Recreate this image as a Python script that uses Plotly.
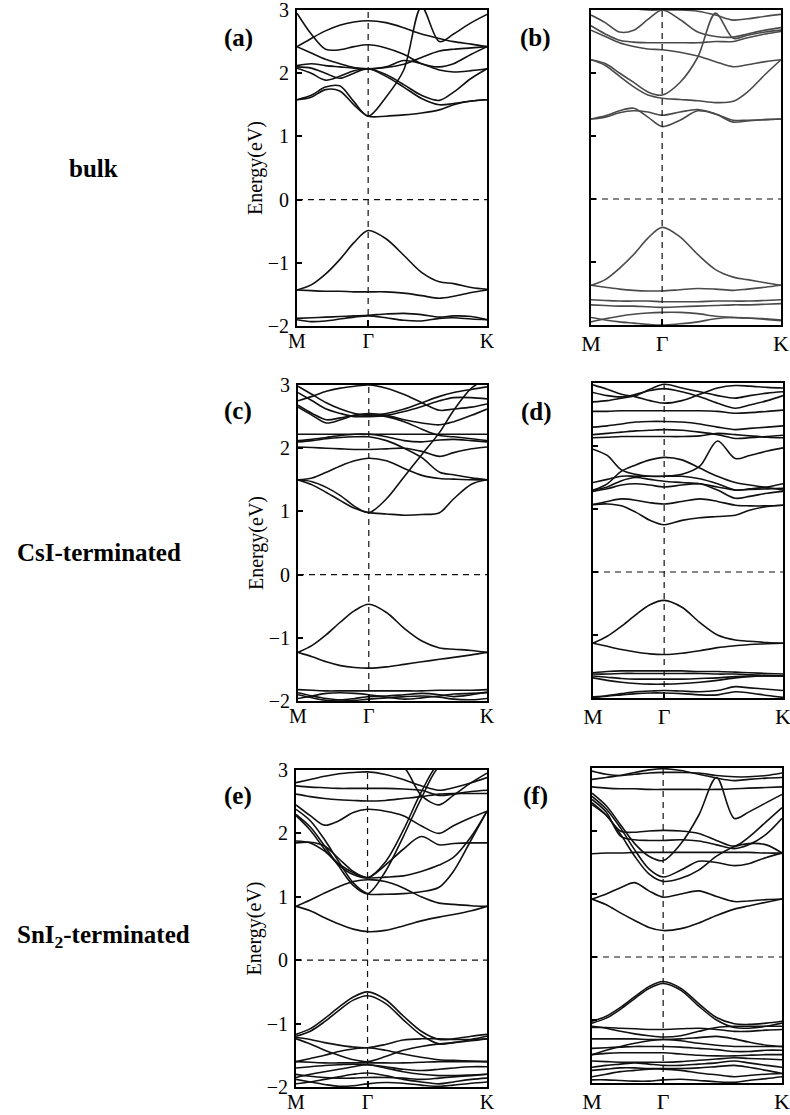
import plotly.graph_objects as go

# ---------------- data ----------------
K_GRID = [0.0, 0.2, 0.4, 0.6, 0.8, 1.0, 1.25, 1.5, 1.75, 2.0, 2.2, 2.45, 2.67]
K_TICKS = [0.0, 1.0, 2.67]
K_LABELS = ["M", "Γ", "K"]
Y_TICKS = [-2, -1, 0, 1, 2, 3]
E_FERMI = 0.0
K_GAMMA = 1.0

A_BANDS = [
    [-1.43, -1.35, -1.18, -0.95, -0.68, -0.49, -0.62, -0.88, -1.15, -1.30, -1.33, -1.39, -1.42],
    [-1.43, -1.44, -1.45, -1.45, -1.46, -1.46, -1.46, -1.48, -1.52, -1.56, -1.53, -1.47, -1.43],
    [-1.88, -1.87, -1.86, -1.85, -1.84, -1.83, -1.81, -1.80, -1.82, -1.86, -1.84, -1.85, -1.90],
    [-1.90, -1.93, -1.92, -1.89, -1.86, -1.84, -1.87, -1.91, -1.92, -1.88, -1.87, -1.89, -1.90],
    [1.58, 1.62, 1.74, 1.72, 1.50, 1.32, 1.32, 1.34, 1.37, 1.42, 1.50, 1.56, 1.58],
    [1.58, 1.65, 1.78, 1.80, 1.55, 1.32, 1.62, 2.05, 3.05, 2.50, 2.62, 2.80, 2.93],
    [2.08, 2.00, 1.89, 1.95, 2.04, 2.07, 1.98, 1.82, 1.65, 1.57, 1.70, 1.92, 2.07],
    [2.10, 2.08, 2.00, 1.92, 2.00, 2.07, 1.95, 1.78, 1.60, 1.50, 1.52, 1.56, 1.58],
    [2.12, 2.15, 2.12, 2.10, 2.08, 2.07, 2.10, 2.20, 2.15, 2.05, 2.02, 2.04, 2.07],
    [2.42, 2.32, 2.22, 2.15, 2.09, 2.07, 2.09, 2.14, 2.25, 2.35, 2.38, 2.40, 2.42],
    [2.95, 2.62, 2.38, 2.37, 2.42, 2.45, 2.40, 2.30, 2.15, 2.10, 2.15, 2.30, 2.42],
    [2.42, 2.55, 2.67, 2.76, 2.81, 2.83, 2.80, 2.72, 2.62, 2.55, 2.50, 2.46, 2.42],
]

B_BANDS = [
    [-1.37, -1.28, -1.10, -0.88, -0.62, -0.45, -0.60, -0.88, -1.12, -1.24, -1.28, -1.33, -1.37],
    [-1.37, -1.40, -1.43, -1.45, -1.46, -1.46, -1.44, -1.42, -1.43, -1.45, -1.43, -1.40, -1.37],
    [-1.60, -1.61, -1.62, -1.62, -1.62, -1.63, -1.63, -1.63, -1.62, -1.62, -1.62, -1.61, -1.60],
    [-1.68, -1.69, -1.70, -1.70, -1.71, -1.72, -1.71, -1.70, -1.69, -1.68, -1.68, -1.67, -1.66],
    [-1.95, -1.90, -1.86, -1.83, -1.81, -1.80, -1.80, -1.82, -1.86, -1.88, -1.89, -1.90, -1.92],
    [-1.88, -1.92, -1.95, -1.97, -1.99, -2.00, -1.98, -1.95, -1.90, -1.88, -1.89, -1.91, -1.93],
    [1.27, 1.32, 1.40, 1.44, 1.30, 1.15, 1.25, 1.40, 1.35, 1.25, 1.25, 1.26, 1.27],
    [1.27, 1.30, 1.37, 1.40, 1.38, 1.33, 1.38, 1.42, 1.35, 1.22, 1.24, 1.26, 1.27],
    [2.21, 2.15, 2.00, 1.85, 1.70, 1.65, 1.85, 2.25, 2.95, 2.55, 2.60, 2.65, 2.68],
    [2.21, 2.12, 1.95, 1.78, 1.65, 1.60, 1.58, 1.56, 1.53, 1.55, 1.70, 1.98, 2.21],
    [2.68, 2.58, 2.48, 2.42, 2.38, 2.37, 2.33, 2.27, 2.18, 2.10, 2.13, 2.18, 2.21],
    [2.75, 2.62, 2.52, 2.49, 2.48, 2.48, 2.48, 2.48, 2.50, 2.50, 2.56, 2.62, 2.66],
    [2.92, 2.80, 2.65, 2.68, 2.85, 3.00, 2.85, 2.65, 2.58, 2.57, 2.62, 2.68, 2.72],
    [3.10, 3.10, 3.05, 3.02, 3.00, 3.00, 3.00, 2.98, 2.92, 2.84, 2.86, 2.90, 2.93],
]

C_BANDS = [
    [-1.23, -1.12, -0.95, -0.75, -0.57, -0.47, -0.60, -0.85, -1.05, -1.16, -1.18, -1.20, -1.23],
    [-1.23, -1.30, -1.38, -1.44, -1.47, -1.48, -1.46, -1.42, -1.38, -1.34, -1.31, -1.27, -1.23],
    [-1.82, -1.83, -1.84, -1.84, -1.84, -1.84, -1.84, -1.84, -1.84, -1.83, -1.83, -1.83, -1.82],
    [-1.87, -1.92, -1.96, -1.98, -1.96, -1.93, -1.92, -1.90, -1.88, -1.90, -1.93, -1.90, -1.86],
    [-1.96, -1.92, -1.88, -1.87, -1.88, -1.90, -1.94, -1.97, -1.95, -1.92, -1.89, -1.88, -1.87],
    [-1.90, -1.95, -1.99, -2.00, -1.99, -1.97, -1.95, -1.93, -1.92, -1.94, -1.97, -1.98, -1.96],
    [1.50, 1.42, 1.30, 1.17, 1.05, 0.98, 0.96, 0.94, 0.95, 0.98, 1.20, 1.43, 1.50],
    [1.50, 1.47, 1.38, 1.25, 1.08, 0.98, 1.20, 1.55, 1.90, 2.25, 2.60, 2.95, 3.10],
    [1.50, 1.53, 1.62, 1.72, 1.80, 1.84, 1.80, 1.68, 1.57, 1.52, 1.51, 1.50, 1.50],
    [2.02, 2.01, 2.00, 1.99, 1.98, 1.98, 1.99, 2.00, 1.95, 1.87, 1.93, 1.99, 2.02],
    [2.10, 2.12, 2.15, 2.17, 2.18, 2.18, 2.12, 2.00, 1.85, 1.62, 1.58, 1.53, 1.50],
    [2.22, 2.22, 2.22, 2.22, 2.22, 2.22, 2.22, 2.22, 2.22, 2.22, 2.22, 2.22, 2.22],
    [2.12, 2.14, 2.17, 2.20, 2.22, 2.22, 2.18, 2.12, 2.10, 2.13, 2.14, 2.12, 2.10],
    [2.65, 2.52, 2.40, 2.45, 2.52, 2.55, 2.52, 2.45, 2.40, 2.37, 2.42, 2.52, 2.62],
    [2.68, 2.55, 2.45, 2.48, 2.52, 2.53, 2.50, 2.42, 2.30, 2.20, 2.18, 2.15, 2.12],
    [2.75, 2.82, 2.90, 2.95, 2.98, 3.00, 2.95, 2.85, 2.72, 2.60, 2.62, 2.65, 2.70],
    [2.98, 2.85, 2.72, 2.62, 2.55, 2.52, 2.55, 2.62, 2.72, 2.82, 2.88, 2.93, 2.97],
    [2.88, 2.75, 2.62, 2.55, 2.50, 2.50, 2.52, 2.58, 2.66, 2.75, 2.80, 2.80, 2.78],
]

D_BANDS = [
    [-1.13, -1.02, -0.86, -0.68, -0.52, -0.45, -0.56, -0.80, -1.00, -1.08, -1.10, -1.12, -1.13],
    [-1.13, -1.18, -1.23, -1.27, -1.30, -1.31, -1.29, -1.25, -1.20, -1.17, -1.15, -1.14, -1.13],
    [-1.60, -1.58, -1.57, -1.57, -1.57, -1.57, -1.57, -1.58, -1.58, -1.59, -1.60, -1.61, -1.62],
    [-1.62, -1.62, -1.61, -1.61, -1.61, -1.61, -1.61, -1.61, -1.62, -1.62, -1.63, -1.64, -1.65],
    [-1.65, -1.67, -1.69, -1.70, -1.70, -1.70, -1.70, -1.69, -1.68, -1.66, -1.65, -1.65, -1.65],
    [-1.68, -1.72, -1.75, -1.77, -1.78, -1.78, -1.77, -1.75, -1.72, -1.68, -1.66, -1.65, -1.65],
    [-2.00, -1.96, -1.93, -1.90, -1.89, -1.88, -1.89, -1.90, -1.88, -1.82, -1.84, -1.86, -1.88],
    [-1.98, -1.97, -1.95, -1.93, -1.92, -1.92, -1.93, -1.95, -1.95, -1.90, -1.92, -1.96, -1.99],
    [1.07, 1.08, 1.05, 0.95, 0.82, 0.75, 0.82, 0.86, 0.88, 0.90, 0.98, 1.04, 1.06],
    [1.07, 1.12, 1.16, 1.14, 1.10, 1.08, 1.12, 1.16, 1.12, 1.06, 1.05, 1.05, 1.06],
    [1.28, 1.32, 1.38, 1.40, 1.38, 1.35, 1.38, 1.40, 1.30, 1.17, 1.20, 1.25, 1.28],
    [1.30, 1.35, 1.45, 1.50, 1.47, 1.44, 1.42, 1.40, 1.35, 1.30, 1.31, 1.32, 1.33],
    [1.30, 1.40, 1.60, 1.70, 1.78, 1.82, 1.78, 1.65, 1.52, 1.42, 1.38, 1.34, 1.30],
    [1.95, 1.85, 1.62, 1.55, 1.52, 1.52, 1.55, 1.68, 2.08, 1.80, 1.85, 1.92, 1.97],
    [1.42, 1.47, 1.52, 1.52, 1.52, 1.52, 1.52, 1.48, 1.40, 1.30, 1.32, 1.35, 1.40],
    [2.85, 2.80, 2.78, 2.82, 2.88, 2.91, 2.86, 2.78, 2.68, 2.60, 2.65, 2.72, 2.80],
    [2.55, 2.55, 2.56, 2.56, 2.56, 2.56, 2.56, 2.56, 2.55, 2.52, 2.53, 2.55, 2.57],
    [2.30, 2.32, 2.35, 2.38, 2.39, 2.39, 2.38, 2.35, 2.30, 2.26, 2.28, 2.30, 2.32],
    [2.18, 2.20, 2.22, 2.24, 2.25, 2.26, 2.25, 2.22, 2.18, 2.12, 2.13, 2.15, 2.17],
    [2.13, 2.14, 2.15, 2.15, 2.15, 2.15, 2.15, 2.16, 2.20, 2.18, 2.16, 2.14, 2.13],
    [2.97, 2.90, 2.82, 2.78, 2.72, 2.68, 2.72, 2.82, 2.92, 2.96, 2.95, 2.93, 2.92],
    [2.70, 2.72, 2.76, 2.80, 2.90, 2.98, 2.92, 2.86, 2.80, 2.76, 2.80, 2.84, 2.86],
]

E_BANDS = [
    [-1.17, -1.08, -0.92, -0.74, -0.58, -0.50, -0.62, -0.88, -1.12, -1.25, -1.24, -1.20, -1.17],
    [-1.20, -1.12, -0.97, -0.79, -0.63, -0.56, -0.68, -0.94, -1.18, -1.32, -1.30, -1.25, -1.20],
    [-1.22, -1.25, -1.30, -1.34, -1.37, -1.38, -1.33, -1.26, -1.24, -1.24, -1.25, -1.25, -1.24],
    [-1.24, -1.32, -1.42, -1.50, -1.57, -1.60, -1.52, -1.42, -1.36, -1.32, -1.30, -1.27, -1.24],
    [-1.60, -1.55, -1.50, -1.44, -1.40, -1.38, -1.42, -1.48, -1.53, -1.57, -1.58, -1.59, -1.60],
    [-1.60, -1.61, -1.62, -1.62, -1.62, -1.62, -1.62, -1.62, -1.61, -1.60, -1.60, -1.60, -1.60],
    [-1.70, -1.68, -1.66, -1.65, -1.64, -1.65, -1.68, -1.72, -1.74, -1.72, -1.70, -1.68, -1.68],
    [-1.85, -1.80, -1.76, -1.72, -1.68, -1.65, -1.70, -1.76, -1.80, -1.82, -1.82, -1.81, -1.80],
    [-1.80, -1.83, -1.85, -1.86, -1.86, -1.85, -1.85, -1.86, -1.88, -1.86, -1.84, -1.82, -1.80],
    [-1.95, -1.92, -1.88, -1.84, -1.80, -1.78, -1.82, -1.88, -1.92, -1.95, -1.92, -1.88, -1.86],
    [-1.88, -1.92, -1.96, -1.99, -1.98, -1.95, -1.93, -1.94, -1.97, -1.99, -1.97, -1.94, -1.92],
    [0.85, 0.78, 0.67, 0.57, 0.49, 0.45, 0.47, 0.54, 0.62, 0.68, 0.72, 0.78, 0.85],
    [0.85, 0.95, 1.06, 1.16, 1.24, 1.27, 1.24, 1.14, 1.00, 0.90, 0.88, 0.86, 0.85],
    [2.38, 2.20, 1.90, 1.55, 1.22, 1.05, 1.04, 1.05, 1.08, 1.15, 1.40, 1.90, 2.35],
    [2.30, 2.10, 1.80, 1.48, 1.18, 1.05, 1.40, 1.95, 2.55, 3.05, 3.10, 3.10, 3.10],
    [2.28, 2.05, 1.75, 1.50, 1.35, 1.30, 1.55, 2.05, 2.65, 3.10, 3.10, 3.10, 3.10],
    [1.88, 1.85, 1.72, 1.52, 1.38, 1.30, 1.31, 1.33, 1.40, 1.50, 1.62, 1.95, 2.35],
    [1.85, 1.86, 1.80, 1.60, 1.40, 1.30, 1.50, 1.75, 1.95, 1.82, 1.84, 1.85, 1.85],
    [2.45, 2.28, 2.13, 2.20, 2.33, 2.38, 2.35, 2.28, 2.12, 2.00, 2.12, 2.25, 2.35],
    [2.62, 2.58, 2.55, 2.53, 2.52, 2.51, 2.52, 2.55, 2.58, 2.62, 2.63, 2.63, 2.63],
    [2.75, 2.73, 2.72, 2.71, 2.71, 2.71, 2.71, 2.70, 2.68, 2.60, 2.62, 2.66, 2.68],
    [2.80, 2.85, 2.90, 2.94, 2.96, 2.97, 2.93, 2.85, 2.75, 2.68, 2.72, 2.80, 2.88],
    [3.10, 3.10, 3.10, 3.10, 3.10, 3.10, 3.10, 3.05, 2.60, 2.45, 2.60, 2.80, 2.95],
]

F_BANDS = [
    [-1.02, -0.94, -0.80, -0.63, -0.47, -0.39, -0.50, -0.74, -0.96, -1.06, -1.07, -1.05, -1.02],
    [-1.05, -0.97, -0.83, -0.66, -0.50, -0.42, -0.53, -0.78, -1.00, -1.12, -1.13, -1.10, -1.05],
    [-1.10, -1.13, -1.18, -1.22, -1.25, -1.27, -1.25, -1.18, -1.12, -1.10, -1.10, -1.10, -1.10],
    [-1.12, -1.12, -1.13, -1.14, -1.15, -1.15, -1.14, -1.13, -1.15, -1.18, -1.18, -1.16, -1.15],
    [-1.55, -1.48, -1.42, -1.37, -1.33, -1.31, -1.33, -1.37, -1.40, -1.42, -1.42, -1.42, -1.42],
    [-1.30, -1.30, -1.30, -1.30, -1.31, -1.31, -1.30, -1.28, -1.26, -1.30, -1.35, -1.40, -1.42],
    [-1.45, -1.44, -1.43, -1.42, -1.42, -1.42, -1.43, -1.45, -1.47, -1.50, -1.50, -1.48, -1.48],
    [-1.55, -1.53, -1.52, -1.52, -1.52, -1.52, -1.54, -1.56, -1.57, -1.57, -1.56, -1.55, -1.55],
    [-1.65, -1.66, -1.67, -1.67, -1.67, -1.67, -1.66, -1.64, -1.62, -1.60, -1.61, -1.62, -1.63],
    [-1.75, -1.72, -1.70, -1.68, -1.70, -1.72, -1.72, -1.70, -1.68, -1.65, -1.68, -1.72, -1.75],
    [-1.80, -1.78, -1.76, -1.76, -1.77, -1.77, -1.77, -1.76, -1.74, -1.72, -1.75, -1.80, -1.85],
    [-1.90, -1.86, -1.82, -1.80, -1.78, -1.78, -1.80, -1.84, -1.87, -1.90, -1.88, -1.86, -1.85],
    [-1.95, -1.95, -1.96, -1.97, -1.97, -1.95, -1.94, -1.96, -1.98, -1.99, -1.96, -1.93, -1.90],
    [0.92, 0.83, 0.70, 0.58, 0.47, 0.42, 0.45, 0.54, 0.66, 0.76, 0.81, 0.87, 0.92],
    [0.92, 1.00, 1.10, 1.18, 1.05, 0.95, 1.00, 1.05, 0.96, 0.88, 0.89, 0.91, 0.92],
    [2.45, 2.25, 1.95, 1.60, 1.32, 1.20, 1.25, 1.38, 1.60, 1.75, 1.80, 1.78, 1.65],
    [2.55, 2.35, 2.05, 1.70, 1.40, 1.27, 1.38, 1.52, 1.50, 1.45, 1.48, 1.58, 1.65],
    [2.60, 2.40, 2.10, 1.80, 1.60, 1.53, 1.80, 2.25, 2.85, 2.20, 2.30, 2.45, 2.58],
    [1.64, 1.65, 1.65, 1.66, 1.66, 1.66, 1.66, 1.66, 1.66, 1.66, 1.66, 1.65, 1.65],
    [2.42, 2.25, 2.00, 1.98, 2.00, 2.01, 2.00, 1.96, 1.85, 1.76, 1.90, 2.15, 2.37],
    [2.50, 2.30, 1.92, 1.86, 1.85, 1.85, 1.86, 1.84, 1.78, 1.72, 1.78, 1.95, 2.20],
    [2.70, 2.68, 2.67, 2.67, 2.66, 2.66, 2.66, 2.66, 2.66, 2.67, 2.68, 2.69, 2.70],
    [2.82, 2.85, 2.88, 2.93, 2.97, 2.99, 2.96, 2.90, 2.84, 2.80, 2.82, 2.84, 2.85],
    [2.95, 2.90, 2.88, 2.90, 2.92, 2.93, 2.93, 2.92, 2.88, 2.86, 2.86, 2.88, 2.92],
]

PANEL_LETTERS = ["(a)", "(b)", "(c)", "(d)", "(e)", "(f)"]
ROW_NAMES = ["bulk", "CsI-terminated", "SnI<sub>2</sub>-terminated"]

# ---------------- layout ----------------
W, H = 790, 1115
SERIF = "Liberation Serif, Times New Roman, serif"

# pixel frames: (left, right, top, bottom)
FRAMES = [
    (297, 487, 10, 326),
    (591, 781, 10, 325),
    (298, 487, 385, 701),
    (593, 783, 383, 698),
    (296, 487, 770, 1087),
    (592, 782, 768, 1083),
]
BANDS = [A_BANDS, B_BANDS, C_BANDS, D_BANDS, E_BANDS, F_BANDS]
LINE_COLORS = ["#111111", "#4a4a4a", "#111111", "#111111", "#111111", "#111111"]
LEFT_COL = [True, False, True, False, True, False]

fig = go.Figure()
layout = dict(width=W, height=H, margin=dict(l=0, r=0, t=0, b=0, autoexpand=False),
              paper_bgcolor="white", plot_bgcolor="white", showlegend=False,
              annotations=[], shapes=[])

for i, (frame, bands) in enumerate(zip(FRAMES, BANDS)):
    l, r, t, b = frame
    n = "" if i == 0 else str(i + 1)
    xa, ya = "x" + n, "y" + n
    for band in bands:
        fig.add_trace(go.Scatter(
            x=K_GRID, y=band, mode="lines", xaxis=xa, yaxis=ya,
            line=dict(color=LINE_COLORS[i], width=1.6, shape="spline", smoothing=0.9),
            hoverinfo="skip"))
    # dashed reference lines
    fig.add_trace(go.Scatter(x=[K_GRID[0], K_GRID[-1]], y=[E_FERMI, E_FERMI], mode="lines",
                             xaxis=xa, yaxis=ya,
                             line=dict(color="#111111", width=1.2, dash="6px,5px"),
                             hoverinfo="skip"))
    fig.add_trace(go.Scatter(x=[K_GAMMA, K_GAMMA], y=[-2, 3], mode="lines",
                             xaxis=xa, yaxis=ya,
                             line=dict(color="#111111", width=1.2, dash="6px,5px"),
                             hoverinfo="skip"))
    left = LEFT_COL[i]
    xfs = 20 if left else 22
    layout["xaxis" + n] = dict(
        domain=[l / W, r / W], range=[K_GRID[0], K_GRID[-1]], anchor=ya,
        automargin=False, ticklabeloverflow="allow",
        showline=True, linecolor="black", linewidth=2, mirror=True,
        showgrid=False, zeroline=False,
        tickvals=K_TICKS, ticktext=K_LABELS, ticks="inside", ticklen=6,
        tickwidth=1.5, tickcolor="black", ticklabelstandoff=(-4 if left else -2),
        tickfont=dict(family=SERIF, size=xfs, color="black"))
    ydict = dict(
        domain=[1 - b / H, 1 - t / H], range=[-2, 3], anchor=xa,
        automargin=False, ticklabeloverflow="allow",
        showline=True, linecolor="black", linewidth=2, mirror=True,
        showgrid=False, zeroline=False,
        tickvals=Y_TICKS, ticks="inside", ticklen=5, tickwidth=1.5, tickcolor="black",
        showticklabels=left,
        tickfont=dict(family=SERIF, size=20, color="black"))
    if left:
        ydict["title"] = dict(text="Energy(eV)", font=dict(family=SERIF, size=20, color="black"),
                              standoff=0)
        ydict["ticklabelstandoff"] = 2
    layout["yaxis" + n] = ydict

# panel letters
LETTER_POS = [(238, 38), (535, 38), (238, 411), (536, 412), (238, 796), (535, 796)]
for txt, (px, py) in zip(PANEL_LETTERS, LETTER_POS):
    layout["annotations"].append(dict(
        text="<b>%s</b>" % txt, x=px / W, y=1 - py / H, xref="paper", yref="paper",
        showarrow=False, xanchor="center", yanchor="middle",
        font=dict(family=SERIF, size=25, color="black")))

ROW_POS = [(93, 168), (99, 552), (103, 936)]
for txt, (px, py) in zip(ROW_NAMES, ROW_POS):
    layout["annotations"].append(dict(
        text="<b>%s</b>" % txt, x=px / W, y=1 - py / H, xref="paper", yref="paper",
        showarrow=False, xanchor="center", yanchor="middle",
        font=dict(family=SERIF, size=25, color="black")))

fig.update_layout(**layout)
fig.write_html("out.html")
